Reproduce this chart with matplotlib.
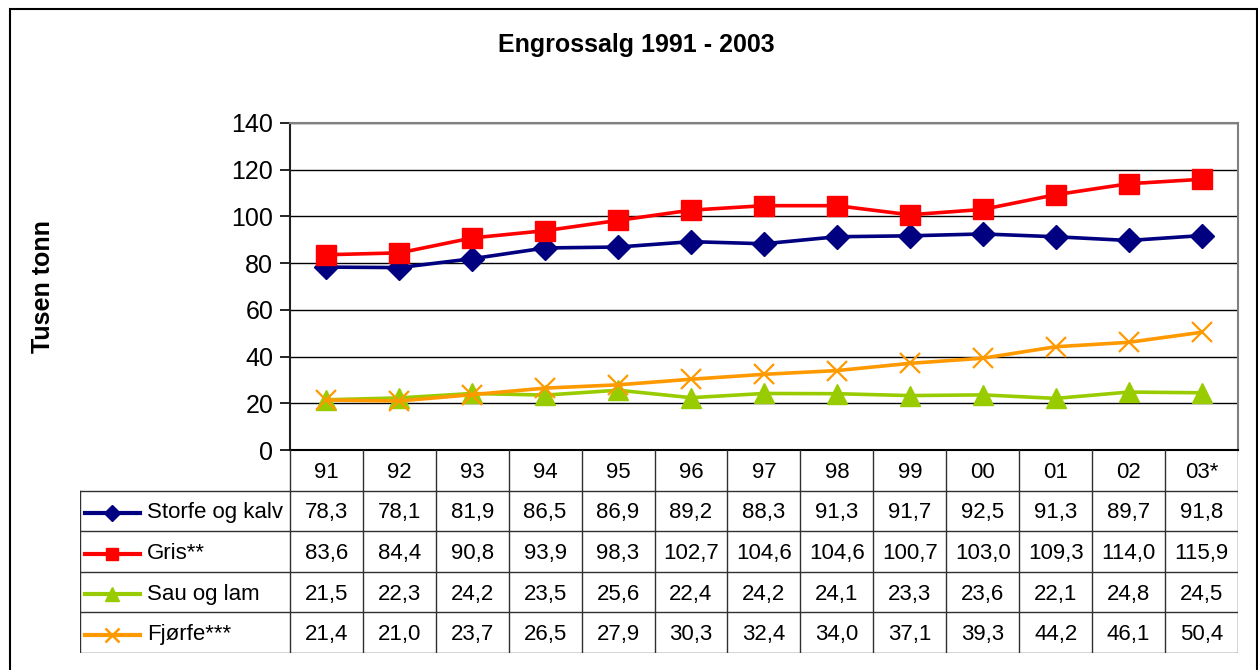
import matplotlib
matplotlib.use("Agg")
import matplotlib.pyplot as plt
from matplotlib.patches import Rectangle
from matplotlib.lines import Line2D

plt.rcParams["font.family"] = ["Liberation Sans", "DejaVu Sans"]

years = ["91", "92", "93", "94", "95", "96", "97", "98", "99", "00", "01", "02", "03*"]
series_names = ["Storfe og kalv", "Gris**", "Sau og lam", "Fjørfe***"]
storfe = [78.3, 78.1, 81.9, 86.5, 86.9, 89.2, 88.3, 91.3, 91.7, 92.5, 91.3, 89.7, 91.8]
gris = [83.6, 84.4, 90.8, 93.9, 98.3, 102.7, 104.6, 104.6, 100.7, 103.0, 109.3, 114.0, 115.9]
sau = [21.5, 22.3, 24.2, 23.5, 25.6, 22.4, 24.2, 24.1, 23.3, 23.6, 22.1, 24.8, 24.5]
fjorfe = [21.4, 21.0, 23.7, 26.5, 27.9, 30.3, 32.4, 34.0, 37.1, 39.3, 44.2, 46.1, 50.4]

values = [storfe, gris, sau, fjorfe]
colors = ["#000080", "#FF0000", "#99CC00", "#FF9900"]
markers = ["D", "s", "^", "x"]
msizes = [12, 15, 15, 15]
legend_ms = [8, 9, 10, 10]

W, H = 1258, 670
fig = plt.figure(figsize=(W / 100, H / 100), dpi=100)

# outer chart border
fig.patches.append(Rectangle((10 / W, -0.01), 1247 / W, (H - 9) / H + 0.01,
                             transform=fig.transFigure, fill=False,
                             edgecolor="black", lw=1.5))

# --- line chart ---
ax = fig.add_axes([290 / W, (H - 450) / H, 948 / W, 327 / H])
x = list(range(len(years)))
for vals, c, m, ms in zip(values, colors, markers, msizes):
    if m == "x":
        ax.plot(x, vals, color=c, lw=2.6, marker=m, ms=ms, mew=1.6, zorder=3)
    else:
        ax.plot(x, vals, color=c, lw=2.6, marker=m, ms=ms, zorder=3)

ax.set_xlim(-0.5, len(years) - 0.5)
ax.set_ylim(0, 140)
ax.set_yticks(range(0, 141, 20))
ax.tick_params(axis="y", labelsize=18, length=7, width=1.2, direction="out", pad=5)
ax.set_xticks([])
ax.grid(axis="y", color="black", lw=1)
for s in ["top", "right"]:
    ax.spines[s].set_color("#808080")
    ax.spines[s].set_linewidth(1.5)
ax.spines["left"].set_color("#202020")
ax.spines["left"].set_linewidth(1.5)
ax.spines["bottom"].set_color("black")
ax.spines["bottom"].set_linewidth(1.5)
ax.set_ylabel("Tusen tonn", fontsize=18, fontweight="bold")
ax.yaxis.set_label_coords(-0.248, 0.5)
fig.text(636 / W, (H - 45) / H, "Engrossalg 1991 - 2003", ha="center", va="center",
         fontsize=18, fontweight="bold")

# --- data table under the chart ---
label_w = 210 / 73.0
tax = fig.add_axes([80 / W, (H - 653) / H, 1158 / W, 203 / H])
tax.set_xlim(-0.5 - label_w, len(years) - 0.5)
tax.set_ylim(len(series_names) + 1, 0)
tax.axis("off")
line_kw = dict(color="#303030", lw=1)
fs = 16

# header row (years)
for i, yr in enumerate(years):
    tax.text(i, 0.55, yr, ha="center", va="center", fontsize=fs)
# vertical lines
for i in range(len(years) + 1):
    tax.plot([i - 0.5, i - 0.5], [0, len(series_names) + 1], **line_kw)
tax.plot([-0.5 - label_w] * 2, [1, len(series_names) + 1], **line_kw)
# horizontal lines
for r in range(1, len(series_names) + 2):
    tax.plot([-0.5 - label_w, len(years) - 0.5], [r, r], **line_kw)

for r, (name, vals, c, m, lms) in enumerate(zip(series_names, values, colors, markers, legend_ms), start=1):
    yc = r + 0.55
    x0 = -0.5 - label_w + 0.07
    x1 = x0 + 0.75
    tax.add_line(Line2D([x0, x1], [yc, yc], color=c, lw=3))
    if m == "x":
        tax.add_line(Line2D([(x0 + x1) / 2], [yc], color=c, marker=m, ms=lms, mew=1.8))
    else:
        tax.add_line(Line2D([(x0 + x1) / 2], [yc], color=c, marker=m, ms=lms))
    tax.text(x1 + 0.1, yc, name, ha="left", va="center", fontsize=fs)
    for i, v in enumerate(vals):
        tax.text(i, yc, f"{v:.1f}".replace(".", ","), ha="center", va="center", fontsize=fs)

fig.savefig("out.png", dpi=100)
